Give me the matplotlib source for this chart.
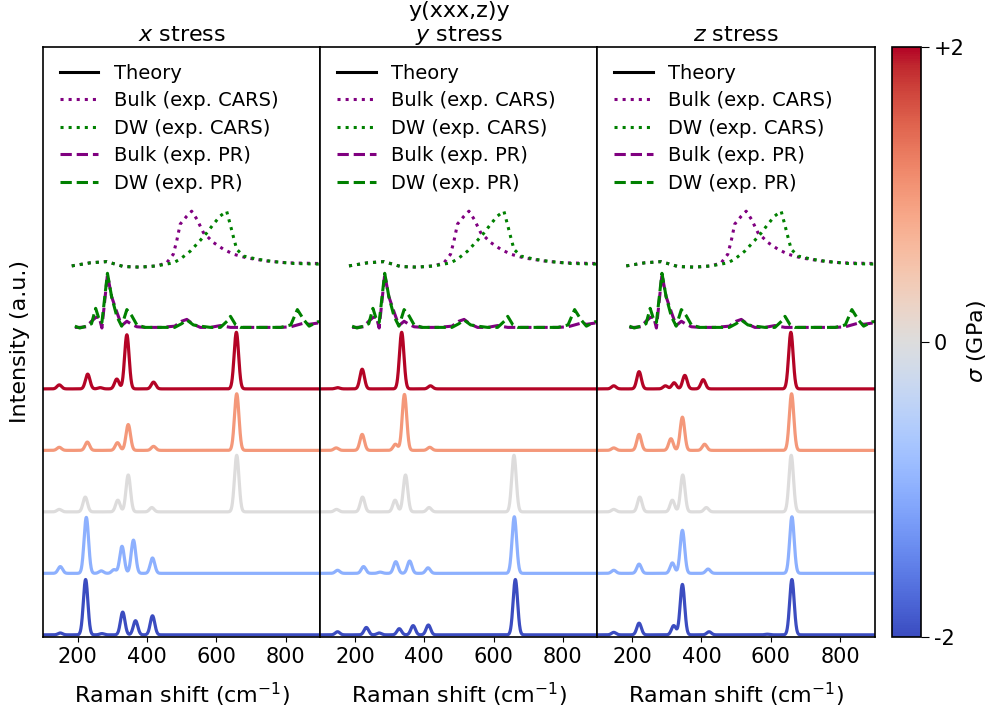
import numpy as np
import matplotlib
matplotlib.use('Agg')
import matplotlib.pyplot as plt
from matplotlib import cm, colors

# stress levels (GPa) and spectrum offsets
stresses = [-2, -1, 0, 1, 2]
panel_titles = ['$x$ stress', 'y(xxx,z)y\n$y$ stress', '$z$ stress']

# theory Raman modes (position cm^-1, relative intensity), one list per stress level
unstressed = [(147, 0.04), (222, 0.24), (316, 0.19), (346, 0.60), (414, 0.07), (659, 0.92)]

x_stress_modes = [
    [(150, 0.03), (223, 0.90), (270, 0.02), (330, 0.37), (367, 0.23), (416, 0.31)],
    [(150, 0.11), (225, 0.91), (268, 0.04), (305, 0.06), (328, 0.44), (361, 0.54), (416, 0.25)],
    unstressed,
    [(147, 0.05), (228, 0.135), (315, 0.125), (346, 0.42), (419, 0.065), (659, 0.92)],
    [(147, 0.065), (229, 0.24), (265, 0.02), (313, 0.16), (342, 0.88), (419, 0.11), (658, 0.92)],
]
y_stress_modes = [
    [(150, 0.05), (233, 0.12), (270, 0.03), (328, 0.10), (368, 0.15), (412, 0.16), (663, 0.90)],
    [(150, 0.05), (225, 0.11), (273, 0.02), (318, 0.19), (358, 0.20), (411, 0.09), (660, 0.92)],
    unstressed,
    [(146, 0.04), (221, 0.26), (317, 0.10), (343, 0.91), (416, 0.05)],
    [(150, 0.02), (221, 0.32), (335, 0.92), (418, 0.05)],
]
z_stress_modes = [
    [(147, 0.04), (220, 0.19), (320, 0.15), (345, 0.82), (422, 0.05), (590, 0.01), (661, 0.90)],
    [(147, 0.05), (220, 0.15), (316, 0.17), (345, 0.70), (419, 0.07), (661, 0.92)],
    unstressed,
    [(147, 0.04), (220, 0.26), (312, 0.19), (345, 0.54), (409, 0.10), (660, 0.92)],
    [(147, 0.05), (220, 0.28), (296, 0.05), (321, 0.10), (352, 0.22), (405, 0.15), (658, 0.92)],
]

# experimental spectra (normalised)
cars_bulk_x = [183, 236, 284, 332, 380, 428, 457, 476, 486, 496, 515, 529, 544, 563,
               592, 621, 650, 688, 746, 804, 890, 910]
cars_bulk_y = [0.0, 0.05, 0.07, -0.01, -0.02, 0.0, 0.05, 0.19, 0.41, 0.68, 0.81, 0.89,
               0.76, 0.54, 0.38, 0.27, 0.19, 0.13, 0.08, 0.05, 0.04, 0.04]
cars_dw_x = [183, 236, 284, 332, 380, 428, 457, 476, 496, 525, 553, 573, 592, 611,
             630, 640, 650, 659, 679, 717, 765, 823, 890, 910]
cars_dw_y = [0.0, 0.05, 0.07, -0.01, -0.02, 0.0, 0.03, 0.05, 0.11, 0.24, 0.41, 0.54,
             0.68, 0.81, 0.89, 0.68, 0.46, 0.27, 0.16, 0.11, 0.07, 0.04, 0.03, 0.03]

pr_x = [192, 206, 225, 240, 252, 262, 270, 286, 298, 313, 327, 342, 356, 371, 395,
        440, 480, 500, 515, 534, 554, 583, 612, 631, 641, 656, 670, 728, 786, 815,
        834, 853, 868, 892, 910]
pr_bulk_y = [0.0, 0.0, 0.01, 0.10, 0.16, 0.17, -0.01, 0.86, 0.50, 0.25, 0.03, 0.10,
             0.05, 0.01, 0.0, 0.0, 0.02, 0.10, 0.13, 0.05, 0.0, 0.0, 0.03, 0.01, 0.0,
             0.0, 0.0, 0.0, 0.0, 0.01, 0.04, 0.07, 0.05, 0.07, 0.07]
pr_dw_y = [0.02, -0.01, 0.02, 0.06, 0.31, 0.13, 0.08, 0.88, 0.50, 0.18, 0.02, 0.29,
           0.19, 0.04, 0.0, 0.0, 0.0, 0.06, 0.12, 0.04, 0.02, 0.0, 0.0, 0.10, 0.18,
           0.04, 0.0, 0.0, 0.0, 0.04, 0.29, 0.12, 0.02, 0.09, 0.10]

plt.rcParams['font.size'] = 16
plt.rcParams['xtick.labelsize'] = 15
plt.rcParams['ytick.labelsize'] = 15
plt.rcParams['axes.linewidth'] = 1.2

SIGMA = 6.5  # gaussian broadening, cm^-1
shift = np.linspace(100, 900, 1601)


def broaden(modes):
    spec = np.zeros_like(shift)
    for pos, amp in modes:
        spec += amp * np.exp(-0.5 * ((shift - pos) / SIGMA) ** 2)
    return spec


cmap = cm.coolwarm
norm = colors.Normalize(vmin=-2, vmax=2)

fig = plt.figure(figsize=(10.02, 7.2), dpi=100)
x0, w, b, h = 0.0429, 0.2767, 0.1153, 0.8194
axes = [fig.add_axes([x0 + i * w, b, w, h]) for i in range(3)]
cax = fig.add_axes([0.890, b, 0.029, h])

for ax, title, modes in zip(axes, panel_titles, [x_stress_modes, y_stress_modes, z_stress_modes]):
    for k, (s, m) in enumerate(zip(stresses, modes)):
        ax.plot(shift, broaden(m) + k, color=cmap(norm(s)), lw=2.3)
    ax.plot(cars_bulk_x, np.array(cars_bulk_y) + 6, ':', color='purple', lw=2.2)
    ax.plot(cars_dw_x, np.array(cars_dw_y) + 6, ':', color='green', lw=2.2)
    ax.plot(pr_x, np.array(pr_bulk_y) + 5, '--', color='purple', lw=2.2)
    ax.plot(pr_x, np.array(pr_dw_y) + 5, '--', color='green', lw=2.2)

    # proxy handles for the legend
    ax.plot([], [], '-', color='k', lw=2.2, label='Theory')
    ax.plot([], [], ':', color='purple', lw=2.2, label='Bulk (exp. CARS)')
    ax.plot([], [], ':', color='green', lw=2.2, label='DW (exp. CARS)')
    ax.plot([], [], '--', color='purple', lw=2.2, label='Bulk (exp. PR)')
    ax.plot([], [], '--', color='green', lw=2.2, label='DW (exp. PR)')
    ax.legend(loc='upper left', frameon=False, fontsize=14, labelspacing=0.44,
              handlelength=2.0, borderaxespad=0.45)

    ax.set_xlim(100, 900)
    ax.set_ylim(-0.035, 9.56)
    ax.set_xticks([200, 400, 600, 800])
    ax.set_yticks([])
    ax.set_title(title, fontsize=16, pad=4)
    ax.set_xlabel('Raman shift (cm$^{-1}$)', labelpad=10)

axes[0].set_ylabel('Intensity (a.u.)', labelpad=9)

sm = cm.ScalarMappable(norm=norm, cmap=cmap)
cb = fig.colorbar(sm, cax=cax, ticks=[-2, 0, 2])
cb.ax.set_yticklabels(['-2', '0', '+2'])
cb.ax.tick_params(length=6)
cb.set_label(r'$\sigma$ (GPa)', labelpad=0)

fig.savefig('out.png', dpi=100)
